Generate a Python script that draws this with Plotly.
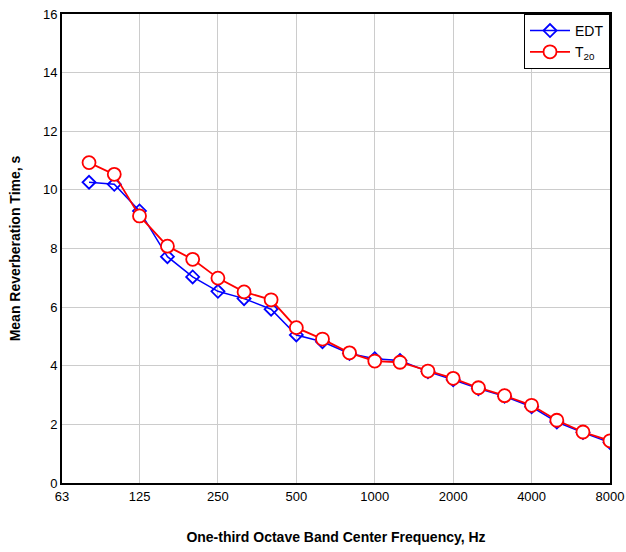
import math
import plotly.graph_objects as go

freqs = [80, 100, 125, 160, 200, 250, 315, 400, 500, 630, 800, 1000, 1250,
         1600, 2000, 2500, 3150, 4000, 5000, 6300, 8000]
edt = [10.26, 10.19, 9.28, 7.72, 7.03, 6.54, 6.29, 5.93, 5.05, 4.82, 4.42, 4.24,
       4.18, 3.80, 3.52, 3.22, 2.96, 2.60, 2.08, 1.72, 1.38]
t20 = [10.93, 10.53, 9.11, 8.08, 7.63, 6.99, 6.52, 6.25, 5.30, 4.91, 4.44, 4.16,
       4.12, 3.82, 3.57, 3.25, 2.98, 2.65, 2.14, 1.74, 1.44]
x_ticks = [63, 125, 250, 500, 1000, 2000, 4000, 8000]
y_ticks = [0, 2, 4, 6, 8, 10, 12, 14, 16]

FONT = "Arial, Liberation Sans, sans-serif"

fig = go.Figure()
fig.add_trace(go.Scatter(
    x=freqs, y=edt, name="EDT", mode="lines+markers",
    line=dict(color="#0000ff", width=1.5),
    marker=dict(symbol="diamond-open", size=10, color="#0000ff",
                line=dict(width=1.8, color="#0000ff")),
))
fig.add_trace(go.Scatter(
    x=freqs, y=t20, name="T<sub>20</sub>", mode="lines+markers",
    line=dict(color="#ff0000", width=1.8),
    marker=dict(symbol="circle", size=13, color="white",
                line=dict(width=1.8, color="#ff0000")),
))

fig.update_layout(
    width=626, height=552,
    margin=dict(l=62, r=16, t=14, b=69, autoexpand=False),
    paper_bgcolor="white", plot_bgcolor="white",
    font=dict(family=FONT, size=13, color="black"),
    showlegend=True,
    hovermode=False,
    legend=dict(x=1, y=1, xanchor="right", yanchor="top",
                bordercolor="black", borderwidth=1, bgcolor="white",
                font=dict(family=FONT, size=14, color="black"),
                tracegroupgap=0, itemwidth=40),
    xaxis=dict(
        type="log", range=[math.log10(63), math.log10(8000)],
        tickvals=x_ticks, ticktext=[str(v) for v in x_ticks],
        showgrid=True, gridcolor="#cccccc", gridwidth=1,
        showline=True, linecolor="black", linewidth=2, mirror=True,
        ticks="", zeroline=False, ticklabeloverflow="allow",
        title=dict(text="<b>One-third Octave Band Center Frequency, Hz</b>",
                   font=dict(family=FONT, size=14), standoff=30),
    ),
    yaxis=dict(
        range=[0, 16], tickvals=y_ticks,
        showgrid=True, gridcolor="#cccccc", gridwidth=1,
        showline=True, linecolor="black", linewidth=2, mirror=True,
        ticks="", zeroline=False, ticklabeloverflow="allow",
        title=dict(text="<b>Mean Reverberation Time, s</b>",
                   font=dict(family=FONT, size=14), standoff=19),
    ),
)

fig.write_html("out.html", config={"displayModeBar": False},
               post_script="document.body.style.margin='0px';")
